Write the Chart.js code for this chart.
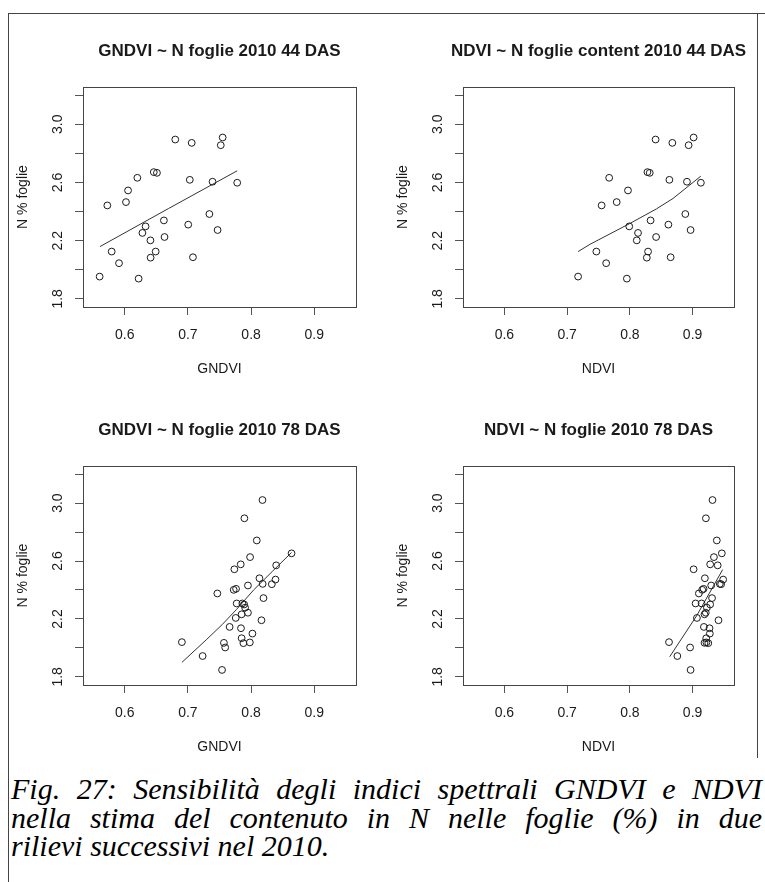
<!DOCTYPE html>
<html><head><meta charset="utf-8">
<script src="https://cdn.jsdelivr.net/npm/chart.js@4.4.1/dist/chart.umd.min.js"></script>
<style>
html,body{margin:0;padding:0;background:#fff;}
#wrap{position:relative;width:765px;height:882px;overflow:hidden;background:#fff;}
canvas{position:absolute;}
.frame{position:absolute;background:#444;z-index:5;}
#caption{position:absolute;left:11px;top:775px;width:751px;font-family:'Liberation Serif','DejaVu Serif',serif;font-style:italic;font-size:30px;line-height:28.5px;color:#000;z-index:6;}
.jl{text-align:justify;text-align-last:justify;}
</style>
</head><body>
<div id="wrap">
  <canvas id="c1" width="382" height="380" style="left:0;top:0"></canvas>
  <canvas id="c2" width="383" height="380" style="left:382px;top:0"></canvas>
  <canvas id="c3" width="382" height="380" style="left:0;top:380px"></canvas>
  <canvas id="c4" width="383" height="380" style="left:382px;top:380px"></canvas>
  <div class="frame" style="left:8px;top:13px;width:757px;height:1px"></div>
  <div class="frame" style="left:8px;top:13px;width:1px;height:869px"></div>
  <div class="frame" style="left:757px;top:13px;width:1px;height:745px"></div>
  <div id="caption">
    <div class="jl">Fig. 27: Sensibilità degli indici spettrali GNDVI e NDVI</div>
    <div class="jl">nella stima del contenuto in N nelle foglie (%) in due</div>
    <div>rilievi successivi nel 2010.</div>
  </div>
</div>
<script>
// ---- axis definitions ----
const xTicks = [0.6, 0.7, 0.8, 0.9];
const yTicks = [1.8, 2.0, 2.2, 2.4, 2.6, 2.8, 3.0, 3.2];
const yTickLabels = ['1.8', '', '2.2', '', '2.6', '', '3.0', ''];
const xLimits = [0.55, 0.95];
const yLimits = [1.8, 3.2];

// ---- 44 DAS ----
const n44 = [1.953, 2.442, 2.125, 2.045, 2.465, 2.545, 2.632, 1.939, 2.253, 2.298, 2.202, 2.083, 2.671, 2.666,
  2.125, 2.339, 2.225, 2.895, 2.310, 2.618, 2.872, 2.086, 2.383, 2.605, 2.273, 2.856, 2.909, 2.598];
const gndvi44 = [0.5603, 0.5725, 0.5794, 0.591, 0.602, 0.6053, 0.620, 0.622, 0.628, 0.633, 0.6407, 0.641, 0.646, 0.651,
  0.649, 0.662, 0.663, 0.680, 0.7005, 0.703, 0.706, 0.708, 0.734, 0.739, 0.747, 0.752, 0.755, 0.778];
const ndvi44 = [0.7175, 0.755, 0.7466, 0.7622, 0.779, 0.797, 0.767, 0.7952, 0.813, 0.799, 0.811, 0.827, 0.828, 0.8317,
  0.829, 0.833, 0.8418, 0.841, 0.8614, 0.863, 0.8677, 0.865, 0.8884, 0.891, 0.8968, 0.8937, 0.9016, 0.9132];
const fitGndvi44X = [0.5608, 0.669, 0.778];
const fitGndvi44Y = [2.159, 2.42, 2.680];
const fitNdvi44X = [0.7175, 0.7365, 0.80, 0.8423, 0.8688, 0.913];
const fitNdvi44Y = [2.125, 2.175, 2.318, 2.418, 2.490, 2.643];

// ---- 78 DAS ----
const n78 = [2.040, 1.944, 2.376, 1.848, 2.035, 2.003, 2.145, 2.543, 2.577, 2.401, 2.408, 2.307, 2.207, 2.136, 2.067, 2.033,
  2.232, 2.307, 2.300, 2.278, 2.895, 2.243, 2.431, 2.038, 2.627, 2.099, 2.742, 2.481, 3.021, 2.442, 2.344, 2.191,
  2.440, 2.472, 2.570, 2.653];
const gndvi78 = [0.6905, 0.7233, 0.7466, 0.754, 0.757, 0.759, 0.766, 0.7735, 0.7836, 0.7725, 0.7762, 0.7772, 0.7757, 0.784,
  0.785, 0.7878, 0.785, 0.7862, 0.789, 0.7905, 0.7894, 0.795, 0.795, 0.798, 0.7984, 0.8021, 0.809, 0.8132, 0.818,
  0.8183, 0.8196, 0.8164, 0.8328, 0.8386, 0.8397, 0.864];
const ndvi78 = [0.8624, 0.8757, 0.910, 0.8968, 0.919, 0.896, 0.918, 0.9016, 0.928, 0.9153, 0.9175, 0.9048, 0.9069, 0.927,
  0.9217, 0.925, 0.919, 0.9143, 0.928, 0.9228, 0.9212, 0.921, 0.9296, 0.922, 0.934, 0.9275, 0.9386, 0.9196, 0.9317,
  0.9434, 0.931, 0.9413, 0.9455, 0.9487, 0.940, 0.9466];
const fitGndvi78X = [0.6905, 0.73, 0.754, 0.777, 0.804, 0.834, 0.864];
const fitGndvi78Y = [1.90, 2.06, 2.16, 2.266, 2.40, 2.53, 2.659];
const fitNdvi78X = [0.8635, 0.9063, 0.948];
const fitNdvi78Y = [1.939, 2.221, 2.541];

const titles = ['GNDVI ~ N foglie 2010 44 DAS', 'NDVI ~ N foglie content 2010 44 DAS',
  'GNDVI ~ N foglie 2010 78 DAS', 'NDVI ~ N foglie 2010 78 DAS'];
const xLabels = ['GNDVI', 'NDVI', 'GNDVI', 'NDVI'];
const yLabel = 'N % foglie';

const zip = (xs, ys) => xs.map((x, i) => ({x: x, y: ys[i]}));
const ext = (l) => { const d = (l[1] - l[0]) * 0.04; return [l[0] - d, l[1] + d]; };
const xr = ext(xLimits), yr = ext(yLimits);
const FONT = "'Liberation Sans', Arial, Helvetica, sans-serif";
const INK = '#1a1a1a';

const decor = {
  id: 'decor',
  afterDraw(chart, args, opts) {
    const ctx = chart.ctx, a = chart.chartArea;
    ctx.save();
    ctx.strokeStyle = '#444'; ctx.lineWidth = 1;
    ctx.strokeRect(Math.round(a.left) + 0.5, Math.round(a.top) + 0.5,
      Math.round(a.right - a.left), Math.round(a.bottom - a.top));
    const ys = chart.scales.y;
    ctx.fillStyle = INK;
    ctx.font = '14px ' + FONT;
    ctx.textAlign = 'center'; ctx.textBaseline = 'middle';
    yTicks.forEach((v, i) => {
      if (!yTickLabels[i]) return;
      const py = ys.getPixelForValue(v);
      ctx.save();
      ctx.translate(a.left - 25, py);
      ctx.rotate(-Math.PI / 2);
      ctx.fillText(yTickLabels[i], 0, 0);
      ctx.restore();
    });
    ctx.font = 'bold 17px ' + FONT;
    ctx.fillText(opts.title, (a.left + a.right) / 2, a.top - 36);
    ctx.restore();
  }
};

function panel(id, box, title, xLabel, px, py, fx, fy) {
  const chartLeft = box[0], chartTop = box[1], chartRight = box[2], chartBottom = box[3];
  const cv = document.getElementById(id);
  const W = cv.width, H = cv.height;
  const yW = 70, xH = 72;
  new Chart(cv, {
    type: 'scatter',
    data: {
      datasets: [
        {data: zip(px, py), pointStyle: 'circle', pointRadius: 3.4, borderWidth: 1,
          borderColor: INK, backgroundColor: 'rgba(0,0,0,0)', showLine: false},
        {type: 'line', data: zip(fx, fy), borderColor: '#333', borderWidth: 1, pointRadius: 0,
          fill: false, tension: 0, showLine: true}
      ]
    },
    options: {
      responsive: false, animation: false, devicePixelRatio: 1, events: [],
      layout: {autoPadding: false, padding: {left: chartLeft - yW, top: chartTop, right: W - chartRight, bottom: H - chartBottom - xH}},
      plugins: {legend: {display: false}, tooltip: {enabled: false}, decor: {title: title}},
      scales: {
        x: {
          type: 'linear', min: xr[0], max: xr[1],
          afterBuildTicks: s => { s.ticks = xTicks.map(v => ({value: v})); },
          afterFit: s => { s.height = xH; },
          grid: {drawOnChartArea: false, drawTicks: true, tickLength: 8, tickColor: '#555', tickWidth: 1},
          border: {display: false},
          ticks: {color: INK, font: {family: FONT, size: 14}, padding: 12, maxRotation: 0, autoSkip: false,
            callback: v => v.toFixed(1)},
          title: {display: true, text: xLabel, color: INK, font: {family: FONT, size: 14}, padding: {top: 0, bottom: 1}}
        },
        y: {
          type: 'linear', min: yr[0], max: yr[1],
          afterBuildTicks: s => { s.ticks = yTicks.map(v => ({value: v})); },
          afterFit: s => { s.width = yW; },
          grid: {drawOnChartArea: false, drawTicks: true, tickLength: 8, tickColor: '#555', tickWidth: 1},
          border: {display: false},
          ticks: {callback: () => '', autoSkip: false},
          title: {display: true, text: yLabel, color: INK, font: {family: FONT, size: 14}, padding: {top: 1.6, bottom: 0}}
        }
      }
    },
    plugins: [decor]
  });
}

panel('c1', [83, 87, 356, 307], titles[0], xLabels[0], gndvi44, n44, fitGndvi44X, fitGndvi44Y);
panel('c2', [81, 87, 352, 307], titles[1], xLabels[1], ndvi44, n44, fitNdvi44X, fitNdvi44Y);
panel('c3', [83, 86, 356, 305], titles[2], xLabels[2], gndvi78, n78, fitGndvi78X, fitGndvi78Y);
panel('c4', [81, 86, 352, 305], titles[3], xLabels[3], ndvi78, n78, fitNdvi78X, fitNdvi78Y);
</script>
</body></html>
